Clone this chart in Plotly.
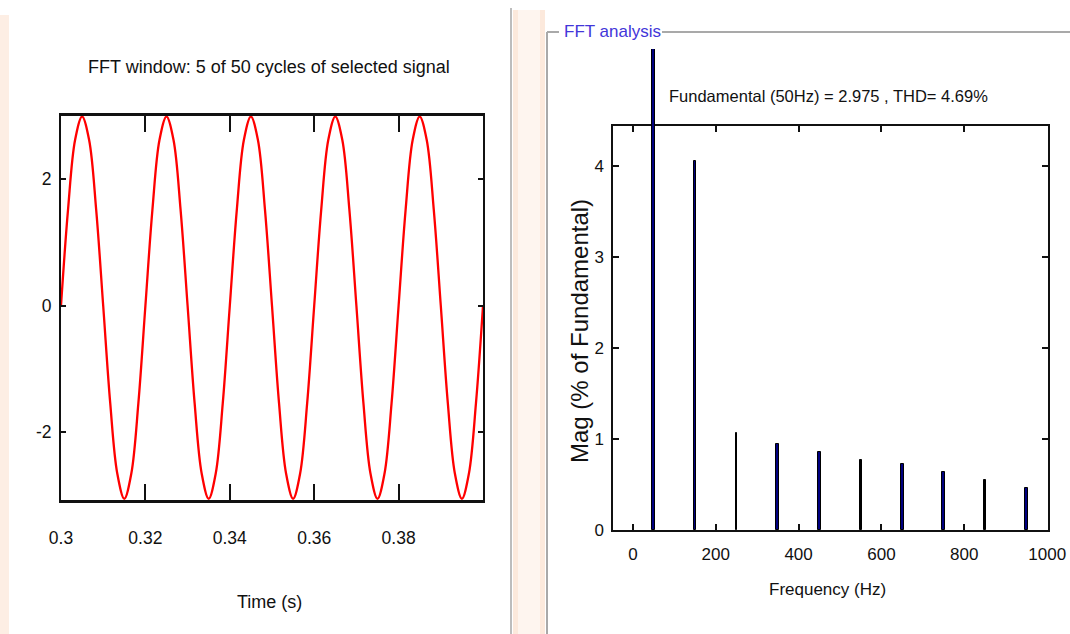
import plotly.graph_objects as go

W, H = 1070, 634

# ---------------- data ----------------
# Left panel: 5 cycles of the selected signal (samples every 1/12 cycle, 50 Hz)
SIGNAL_VALUES = [
    0.00, 1.52, 2.62, 2.99, 2.62, 1.52, 0.00, -1.54, -2.65, -3.05, -2.65, -1.54,
    0.00, 1.52, 2.62, 2.99, 2.62, 1.52, 0.00, -1.54, -2.65, -3.05, -2.65, -1.54,
    0.00, 1.52, 2.62, 2.99, 2.62, 1.52, 0.00, -1.54, -2.65, -3.05, -2.65, -1.54,
    0.00, 1.52, 2.62, 2.99, 2.62, 1.52, 0.00, -1.54, -2.65, -3.05, -2.65, -1.54,
    0.00, 1.52, 2.62, 2.99, 2.62, 1.52, 0.00, -1.54, -2.65, -3.05, -2.65, -1.54,
    0.00,
]
T_START = 0.3
T_STEP = 0.02 / 12
TIME_S = [T_START + i * T_STEP for i in range(len(SIGNAL_VALUES))]

TIME_TICKS = [0.3, 0.32, 0.34, 0.36, 0.38]
TIME_TICK_LABELS = ["0.3", "0.32", "0.34", "0.36", "0.38"]
SIG_TICKS = [-2, 0, 2]
SIG_TICK_LABELS = ["-2", "0", "2"]

# Right panel: harmonic spectrum (% of fundamental)
FUND_FREQ = [50]
FUND_MAG = [100.0]
HARM_FREQ = [150, 250, 350, 450, 550, 650, 750, 850, 950]
HARM_MAG = [4.05, 1.07, 0.945, 0.857, 0.77, 0.73, 0.64, 0.553, 0.465]
HARM_COLORS = ["#000080", "#000000", "#000080", "#000080", "#000000",
               "#000080", "#000080", "#000000", "#000080"]
HARM_WIDTHS = [7, 4, 7, 7, 4, 7, 7, 4, 7]

FREQ_TICKS = [0, 200, 400, 600, 800, 1000]
MAG_TICKS = [0, 1, 2, 3, 4]

TITLE_LEFT = "FFT window: 5 of 50 cycles of selected signal"
FUND_TEXT = "Fundamental (50Hz) = 2.975 , THD= 4.69%"

# ---------------- layout helpers ----------------
def px(x):
    return x / W

def py(y):
    return 1 - y / H

FONT = "Liberation Sans, Arial, sans-serif"
INK = "#111111"

# left plot frame (pixels)
L_X0, L_X1, L_Y0, L_Y1 = 61, 483, 116, 500
# right plot frame (pixels)
R_X0, R_X1, R_Y0, R_Y1 = 613, 1048, 126, 530
R_BAR_TOP = 49

Y2_MAX = 4.44
Y3_MAX = Y2_MAX * (R_Y1 - R_BAR_TOP) / (R_Y1 - R_Y0)

fig = go.Figure()

fig.add_trace(go.Scatter(
    x=TIME_S, y=SIGNAL_VALUES, mode="lines",
    line=dict(color="#ff0000", width=2.3, shape="spline", smoothing=1.0),
    xaxis="x", yaxis="y", showlegend=False, hoverinfo="skip"))

fig.add_trace(go.Bar(
    x=HARM_FREQ, y=HARM_MAG, width=HARM_WIDTHS,
    marker=dict(color=HARM_COLORS, line=dict(color="#000000", width=1)),
    xaxis="x2", yaxis="y2", showlegend=False, hoverinfo="skip"))

fig.add_trace(go.Bar(
    x=FUND_FREQ, y=FUND_MAG, width=[9],
    marker=dict(color="#000080", line=dict(color="#000000", width=1)),
    xaxis="x2", yaxis="y3", showlegend=False, hoverinfo="skip"))

tickfont_l = dict(family=FONT, size=17.5, color=INK)
tickfont_r = dict(family=FONT, size=17, color=INK)

fig.update_layout(
    template="none",
    width=W, height=H,
    margin=dict(l=0, r=0, t=0, b=0, pad=0, autoexpand=False),
    paper_bgcolor="white", plot_bgcolor="rgba(0,0,0,0)",
    bargap=0,
    xaxis=dict(
        domain=[px(L_X0), px(L_X1)], anchor="y", range=[0.3, 0.4],
        tickvals=TIME_TICKS, ticktext=TIME_TICK_LABELS,
        ticks="inside", ticklen=16, tickwidth=2, tickcolor=INK,
        showline=True, linewidth=3, linecolor=INK, mirror="ticks",
        showgrid=False, zeroline=False, tickfont=tickfont_l,
        ticklabelstandoff=20, automargin=False),
    yaxis=dict(
        domain=[py(L_Y1), py(L_Y0)], anchor="x", range=[-3.07, 3.0],
        tickvals=SIG_TICKS, ticktext=SIG_TICK_LABELS,
        ticks="inside", ticklen=5, tickwidth=2, tickcolor=INK,
        showline=True, linewidth=2, linecolor=INK, mirror="ticks",
        showgrid=False, zeroline=False, tickfont=tickfont_l,
        ticklabelstandoff=4, automargin=False),
    xaxis2=dict(
        domain=[px(R_X0), px(R_X1)], anchor="y2", range=[-48, 1002],
        tickvals=FREQ_TICKS,
        ticks="inside", ticklen=6, tickwidth=1.5, tickcolor=INK,
        showline=True, linewidth=2, linecolor=INK, mirror="ticks",
        showgrid=False, zeroline=False, tickfont=tickfont_r,
        ticklabelstandoff=8, automargin=False),
    yaxis2=dict(
        domain=[py(R_Y1), py(R_Y0)], anchor="x2", range=[0, Y2_MAX],
        tickvals=MAG_TICKS,
        ticks="inside", ticklen=6, tickwidth=1.5, tickcolor=INK,
        showline=True, linewidth=1.5, linecolor=INK, mirror="ticks",
        showgrid=False, zeroline=False, tickfont=tickfont_r,
        ticklabelstandoff=4, automargin=False),
    yaxis3=dict(
        domain=[py(R_Y1), py(R_BAR_TOP)], anchor="x2", range=[0, Y3_MAX],
        visible=False, showgrid=False, zeroline=False, automargin=False),
)

shapes = []
# left edge peach strip
shapes.append(dict(type="rect", xref="paper", yref="paper",
                   x0=px(0), x1=px(9), y0=py(H), y1=py(15),
                   fillcolor="#fdeee4", line=dict(width=0), layer="below"))
# separator gray line
shapes.append(dict(type="line", xref="paper", yref="paper",
                   x0=px(511), x1=px(511), y0=py(8), y1=py(H),
                   line=dict(color="#bdbdbd", width=2)))
# peach band between panels
shapes.append(dict(type="rect", xref="paper", yref="paper",
                   x0=px(513), x1=px(545), y0=py(H), y1=py(10),
                   fillcolor="#fef5ef", line=dict(width=0), layer="below"))
shapes.append(dict(type="rect", xref="paper", yref="paper",
                   x0=px(513), x1=px(518), y0=py(H), y1=py(10),
                   fillcolor="#fce9dc", line=dict(width=0), layer="below"))
shapes.append(dict(type="rect", xref="paper", yref="paper",
                   x0=px(540), x1=px(545), y0=py(H), y1=py(10),
                   fillcolor="#fce9dc", line=dict(width=0), layer="below"))
# group box "FFT analysis"
box_col = "#a9a9a9"
shapes.append(dict(type="line", xref="paper", yref="paper",
                   x0=px(547), x1=px(547), y0=py(32), y1=py(H),
                   line=dict(color=box_col, width=2)))
shapes.append(dict(type="line", xref="paper", yref="paper",
                   x0=px(547), x1=px(559), y0=py(32), y1=py(32),
                   line=dict(color=box_col, width=2)))
shapes.append(dict(type="line", xref="paper", yref="paper",
                   x0=px(662), x1=px(W), y0=py(32), y1=py(32),
                   line=dict(color=box_col, width=2)))
fig.update_layout(shapes=shapes)

ann = []
ann.append(dict(text=TITLE_LEFT, x=px(269), y=py(67), xref="paper", yref="paper",
                showarrow=False, xanchor="center", yanchor="middle",
                font=dict(family=FONT, size=18, color=INK)))
ann.append(dict(text="Time (s)", x=px(269), y=py(602), xref="paper", yref="paper",
                showarrow=False, xanchor="center", yanchor="middle",
                font=dict(family=FONT, size=18, color=INK)))
ann.append(dict(text="FFT analysis", x=px(562), y=py(31), xref="paper", yref="paper",
                showarrow=False, xanchor="left", yanchor="middle",
                font=dict(family=FONT, size=17, color="#4336d9")))
ann.append(dict(text=FUND_TEXT, x=px(667), y=py(96), xref="paper", yref="paper",
                showarrow=False, xanchor="left", yanchor="middle",
                font=dict(family=FONT, size=16.5, color=INK)))
ann.append(dict(text="Frequency (Hz)", x=px(827), y=py(589), xref="paper", yref="paper",
                showarrow=False, xanchor="center", yanchor="middle",
                font=dict(family=FONT, size=17, color=INK)))
ann.append(dict(text="Mag (% of Fundamental)", x=px(579), y=py(331), xref="paper", yref="paper",
                showarrow=False, xanchor="center", yanchor="middle", textangle=-90,
                font=dict(family=FONT, size=24, color=INK)))
fig.update_layout(annotations=ann)

fig.write_html("out.html",
               config={"displayModeBar": False},
               post_script="document.body.style.margin='0px';document.body.style.overflow='hidden';")
